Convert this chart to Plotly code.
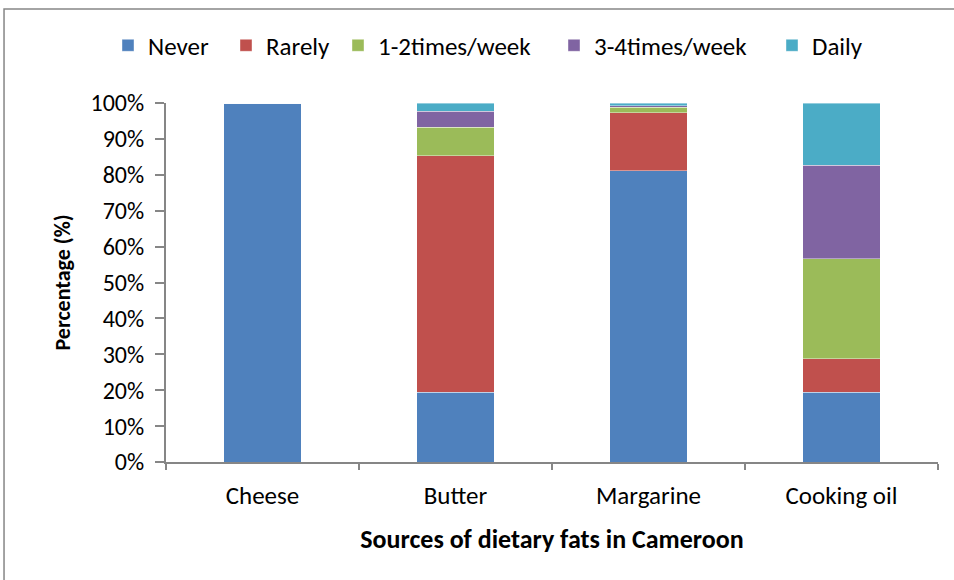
import plotly.graph_objects as go

categories = ["Cheese", "Butter", "Margarine", "Cooking oil"]
series_names = ["Never", "Rarely", "1-2times/week", "3-4times/week", "Daily"]
never = [100.0, 19.4, 81.1, 19.5]
rarely = [0.0, 65.9, 16.2, 9.3]
once_twice = [0.0, 8.0, 1.5, 27.8]
three_four = [0.0, 4.4, 0.5, 26.0]
daily = [0.0, 2.3, 0.7, 17.4]
colors = ["#4F81BD", "#C0504D", "#9BBB59", "#8064A2", "#4BACC6"]
y_ticks = list(range(0, 101, 10))
y_tick_labels = [f"{v}%" for v in y_ticks]

FONT = "Carlito, Lato, sans-serif"
PLOT_L, PLOT_W = 166, 772
legend_px = [122, 240, 352, 568, 786]  # left edge of each legend swatch

fig = go.Figure()
legend_ids = ["legend", "legend2", "legend3", "legend4", "legend5"]
for name, vals, col, lid in zip(series_names, [never, rarely, once_twice, three_four, daily], colors, legend_ids):
    fig.add_trace(go.Bar(
        x=categories, y=vals, name=name, legend=lid, showlegend=True,
        marker=dict(color=col, line=dict(color="rgba(255,255,255,0.5)", width=0.8)),
    ))

legend_layout = {}
for lid, px in zip(legend_ids, legend_px):
    legend_layout[lid] = dict(
        orientation="h", x=(px - 14 - PLOT_L) / PLOT_W, xanchor="left",
        y=1.16, yanchor="middle", font=dict(size=25), itemwidth=30,
        bgcolor="rgba(0,0,0,0)", visible=True,
    )

fig.update_layout(
    showlegend=True,
    barmode="stack",
    bargap=0.6,
    width=954, height=580,
    margin=dict(l=166, r=16, t=103, b=118),
    paper_bgcolor="white", plot_bgcolor="white",
    font=dict(family=FONT, size=24, color="#000000"),
    xaxis=dict(
        showline=True, linecolor="#868686", linewidth=2,
        ticks="outside", tickson="boundaries", ticklen=6, tickcolor="#868686", tickwidth=2,
        tickfont=dict(size=25), ticklabelstandoff=10,
        title=dict(text="<b>Sources of dietary fats in Cameroon</b>", font=dict(size=26), standoff=20),
    ),
    yaxis=dict(
        range=[0, 100], tickvals=y_ticks, ticktext=y_tick_labels,
        showline=True, linecolor="#868686", linewidth=2,
        ticks="outside", ticklen=9, tickcolor="#868686", tickwidth=2,
        showgrid=False, zeroline=False,
        tickfont=dict(size=24), ticklabelstandoff=6,
        title=dict(text="<b>Percentage (%)</b>", font=dict(size=22), standoff=14),
    ),
    shapes=[dict(
        type="rect", xref="paper", yref="paper",
        x0=-0.2098, x1=1.04, y0=-0.37, y1=1.2618,
        line=dict(color="#868686", width=1.5), fillcolor="rgba(0,0,0,0)", layer="below",
    )],
    **legend_layout,
)

fig.write_html("out.html")
